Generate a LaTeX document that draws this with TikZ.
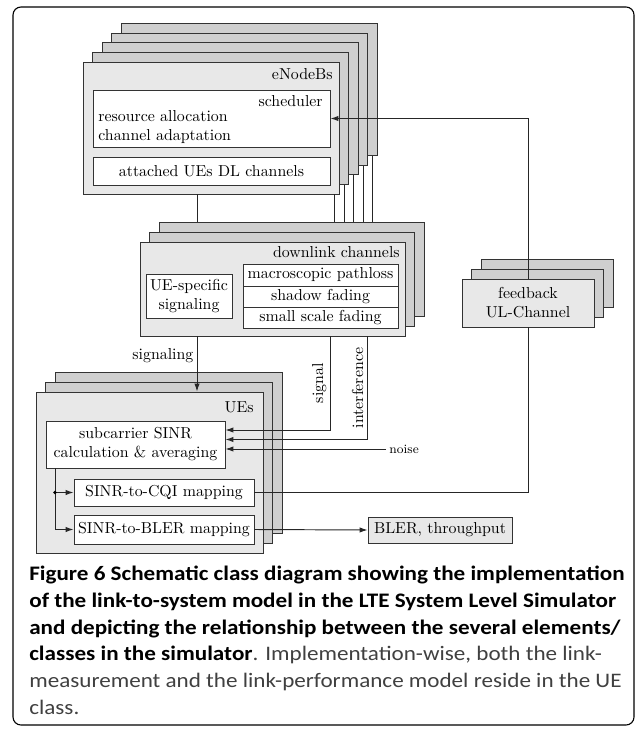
\documentclass[tikz,border=0pt]{standalone}
\usepackage{fontspec}
\newfontfamily\capfont[FakeStretch=1.12]{Carlito}
\usetikzlibrary{fit,calc,arrows.meta}

\tikzset{
  front/.style={draw=black!80, fill=black!9, line width=0.6pt, inner sep=0pt},
  back/.style={draw=black!80, fill=black!19, line width=0.6pt, inner sep=0pt},
  part/.style={draw=black!80, fill=white, line width=0.6pt, inner sep=0pt},
  inside/.style={label={[align=center, inner sep=0pt]center:#1}},
  wire/.style={draw=black!85, line width=0.6pt},
  tip/.style={wire, -{Latex[length=5pt,width=3.4pt]}},
}

% a class drawn with its copies stacked behind it
\newcommand\classstack[4]{%
  \foreach \k in {#4,...,1}
    \node[back, fit={($(#2)+(9.6*\k,-9.6*\k)$) ($(#3)+(9.6*\k,-9.6*\k)$)}] (#1\k) {};
  \node[front, fit={(#2) (#3)}] (#1) {};
}

\begin{document}
\begin{tikzpicture}[x=0.63pt, y=-0.63pt,
% every node/.style={draw=red}
]
\useasboundingbox (0,0) rectangle (637,731);
\draw[line width=0.7pt, rounded corners=5pt] (13,7) rectangle (634,725);

\classstack{enb}{83,62}{339,194}{4}
\classstack{dl}{140,242}{405,336}{2}
\classstack{fb}{462,279}{594,327}{2}
\classstack{ue}{36,392}{263,553}{2}

\node[anchor=east, inner sep=0pt] (enbt) at (333,74) {eNodeBs};
\node[part, fit={(93,90) (330,147)}] (sched) {};
\node[anchor=east, inner sep=0pt] (schedt) at (323,101) {scheduler};
\node[anchor=west, inner sep=0pt, align=left] (alloc) at (98,127) {resource allocation\\channel adaptation};
\node[part, fit={(93,157) (330,185)}, inside={attached UEs DL channels}] (att) {};

\node[anchor=east, inner sep=0pt] (dlt) at (400,252) {downlink channels};
\node[part, fit={(146,274) (232,318)}, inside={UE-specific\\signaling}] (uesig) {};
\node[part, fit={(243,264) (398,286)}, inside={macroscopic pathloss}] (pl) {};
\node[part, fit={(243,286) (398,307)}, inside={shadow fading}] (sf) {};
\node[part, fit={(243,307) (398,328)}, inside={small scale fading}] (ssf) {};

\node[align=center, inner sep=0pt] (fbt) at (fb) {feedback\\UL-Channel};

\node[anchor=east, inner sep=0pt] (uet) at (254,407) {UEs};
\node[part, fit={(46,421) (225,468)}, inside={subcarrier SINR\\calculation \& averaging}] (sinr) {};
\node[part, fit={(74,479) (254,506)}, inside={SINR-to-CQI mapping}] (cqi) {};
\node[part, fit={(74,515) (254,544)}, inside={SINR-to-BLER mapping}] (bler) {};
\node[front, fit={(368,517) (512,543)}, inside={BLER, throughput}] (out) {};

\coordinate (sg) at (197,0);
\coordinate (sx) at (330,0);
\coordinate (ix) at (367,0);
\coordinate (bx) at (55,0);

\foreach \n in {enb,enb1,enb2,enb3,enb4} {
  \path ($(\n.south east)+(-5,0)$) coordinate (tap);
  \draw[wire] (tap) -- (tap |- dl2.north);
}
\draw[wire] (enb.south -| sg) -- (dl2.north -| sg);
\draw[tip] (dl.south -| sg) -- node[left, pos=0.35, inner sep=2pt] (sgt) {signaling} (ue.north -| sg);
\draw[tip] (dl.south -| sx) |- node[pos=0.25, above, rotate=90, inner sep=2pt] (sgl) {signal} ($(sinr.east)+(0,-14.5)$);
\draw[tip] (dl.south -| ix) |- node[pos=0.25, above, rotate=90, inner sep=2pt] (itf) {interference} ($(sinr.east)+(0,-5)$);
\node[anchor=west, font=\footnotesize, inner sep=2pt] (ns) at (386,449) {noise};
\draw[tip] (ns.west) -- (ns.west -| sinr.east);

\draw[tip] (fb.north) |- (sched.east);
\draw[wire] (cqi.east) -| (fb.south);

\draw[tip] (sinr.south -| bx) |- (bler.west);
\draw[tip] (cqi.west -| bx) -- (cqi.west);
\fill (cqi.west -| bx) circle (1.2pt);
\draw[tip] (bler.east) -- (out.west);

\node[anchor=north west, inner sep=0pt, align=left,
  font=\capfont\fontsize{13}{16.8}\selectfont] (cap) at (29,566)
  {\textbf{Figure 6 Schematic class diagram showing the implementation}\\
   \textbf{of the link-to-system model in the LTE System Level Simulator}\\
   \textbf{and depicting the relationship between the several elements/}\\
   \textbf{classes in the simulator}\textcolor{black!75}{. Implementation-wise, both the link-}\\
   \textcolor{black!75}{measurement and the link-performance model reside in the UE}\\
   \textcolor{black!75}{class.}};
\end{tikzpicture}
\end{document}
